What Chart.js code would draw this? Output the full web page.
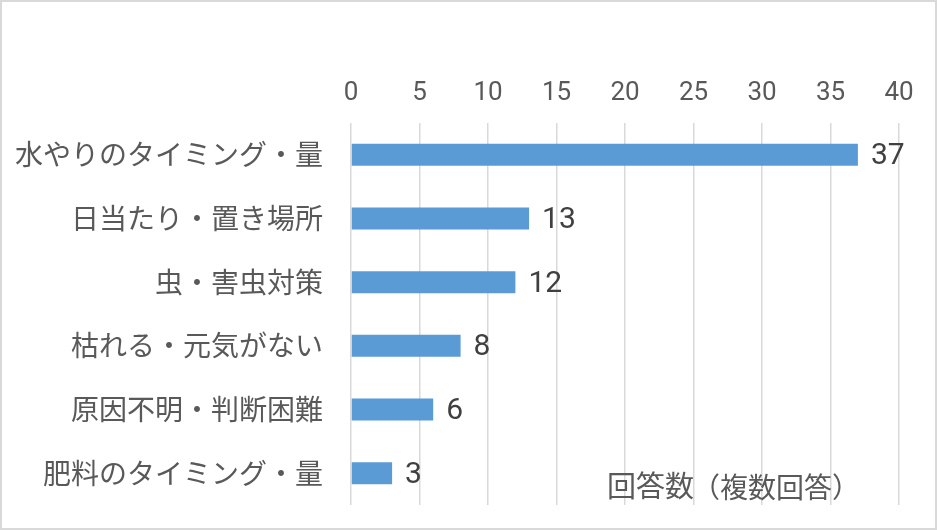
<!DOCTYPE html>
<html>
<head>
<meta charset="utf-8">
<script src="https://cdn.jsdelivr.net/npm/chart.js@4"></script>
<style>
  body { margin: 0; background: #fff; }
  #wrap { width: 937px; height: 530px; box-sizing: border-box; border: 2px solid #d9d9d9; position: relative; }
  #wrap canvas { display: block; }
</style>
</head>
<body>
<div id="wrap"><canvas id="chart" width="933" height="526"></canvas></div>
<script>
var categories = ['水やりのタイミング・量', '日当たり・置き場所', '虫・害虫対策', '枯れる・元気がない', '原因不明・判断困難', '肥料のタイミング・量'];
var answers = [37, 13, 12, 8, 6, 3];
var xTicks = [0, 5, 10, 15, 20, 25, 30, 35, 40];
var axisTitle = '回答数';
var axisNote = '（複数回答）';

// value labels at the end of each bar
var valueLabels = {
  id: 'valueLabels',
  afterDatasetsDraw: function (chart) {
    var ctx = chart.ctx;
    var meta = chart.getDatasetMeta(0);
    ctx.save();
    ctx.font = '30px Roboto';
    ctx.fillStyle = '#404040';
    ctx.textAlign = 'left';
    ctx.textBaseline = 'middle';
    meta.data.forEach(function (bar, i) {
      ctx.fillText(String(answers[i]), bar.x + 13, bar.y + 2);
    });
    ctx.restore();
  }
};

// "回答数（複数回答）" in the lower right of the plot
var axisNoteLabel = {
  id: 'axisNoteLabel',
  afterDraw: function (chart) {
    var ctx = chart.ctx;
    var area = chart.chartArea;
    var x = area.left + 256;
    var y = area.bottom - 19;
    ctx.save();
    ctx.fillStyle = '#595959';
    ctx.textBaseline = 'middle';
    ctx.textAlign = 'left';
    ctx.font = '29px "Noto Sans CJK JP"';
    ctx.fillText(axisTitle, x, y);
    var w = ctx.measureText(axisTitle).width;
    ctx.font = '28px "Noto Sans CJK JP"';
    ctx.fillText(axisNote, x + w - 2, y + 1);
    ctx.restore();
  }
};

var ctx = document.getElementById('chart').getContext('2d');
var chart = new Chart(ctx, {
  type: 'bar',
  data: {
    labels: categories,
    datasets: [{
      data: answers,
      backgroundColor: '#5B9BD5',
      borderWidth: 0,
      categoryPercentage: 1,
      barPercentage: 0.345
    }]
  },
  options: {
    indexAxis: 'y',
    responsive: false,
    animation: false,
    layout: { padding: { top: 0, left: 0, right: 36, bottom: 23 } },
    plugins: {
      legend: { display: false },
      tooltip: { enabled: false }
    },
    scales: {
      x: {
        position: 'top',
        min: 0,
        max: 40,
        afterBuildTicks: function (scale) {
          scale.ticks = xTicks.map(function (v) { return { value: v }; });
        },
        afterFit: function (scale) {
          scale.height = 121;
          scale.paddingLeft = 0;
          scale.paddingRight = 0;
        },
        grid: { color: '#d9d9d9', lineWidth: 1.5, drawTicks: false },
        border: { display: false },
        ticks: {
          padding: 14,
          color: '#595959',
          font: { family: 'Roboto', size: 26 }
        }
      },
      y: {
        afterFit: function (scale) {
          scale.width = 349;
          scale.paddingTop = 0;
          scale.paddingBottom = 0;
        },
        grid: { display: false, drawTicks: false },
        border: { display: false },
        ticks: {
          padding: 28,
          color: '#595959',
          font: { family: '"Noto Sans CJK JP"', size: 28 }
        }
      }
    }
  },
  plugins: [valueLabels, axisNoteLabel]
});
</script>
</body>
</html>
